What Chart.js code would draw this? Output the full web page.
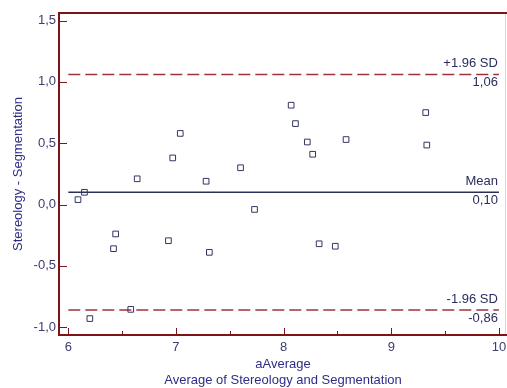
<!DOCTYPE html>
<html>
<head>
<meta charset="utf-8">
<script src="https://cdn.jsdelivr.net/npm/chart.js@4/dist/chart.umd.min.js"></script>
<style>
html,body{margin:0;padding:0;background:#fff;}
#wrap{width:507px;height:388px;}
</style>
</head>
<body>
<div id="wrap"><canvas id="c" width="507" height="388"></canvas></div>
<script>
// ---- data ----
const averages = [6.09, 6.15, 6.20, 6.42, 6.44, 6.58, 6.64, 6.93, 6.97, 7.04, 7.28, 7.31,
                  7.60, 7.73, 8.07, 8.11, 8.22, 8.27, 8.33, 8.48, 8.58, 9.32, 9.33];
const differences = [0.04, 0.10, -0.93, -0.36, -0.24, -0.855, 0.21, -0.295, 0.38, 0.58, 0.19, -0.39,
                     0.30, -0.04, 0.81, 0.66, 0.51, 0.41, -0.32, -0.34, 0.53, 0.75, 0.485];
const meanDiff = 0.10;
const upperLoA = 1.06;
const lowerLoA = -0.86;
const lineSpan = [6, 10];
const refLabels = [
  {value: upperLoA, name: '+1.96 SD', text: '1,06'},
  {value: meanDiff, name: 'Mean', text: '0,10'},
  {value: lowerLoA, name: '-1.96 SD', text: '-0,86'}
];
const xMajorTicks = [6, 7, 8, 9, 10];
const xMinorTicks = [6.5, 7.5, 8.5, 9.5];
const yMajorTicks = [-1.0, -0.5, 0.0, 0.5, 1.0, 1.5];
const xTitle = ['aAverage', 'Average of Stereology and Segmentation'];
const yTitle = 'Stereology - Segmentation';

// ---- styling ----
const FRAME = '#7d1518';
const FONT = 'Arial, "Liberation Sans", sans-serif';

const points = averages.map((x, i) => ({x: x, y: differences[i]}));
const lineData = v => lineSpan.map(x => ({x: x, y: v}));

const fmt = v => v.toFixed(1).replace('.', ',');

const framePlugin = {
  id: 'framePlugin',
  afterDraw(chart) {
    const {ctx, chartArea: a, scales: {x, y}} = chart;
    ctx.save();
    // top border
    ctx.strokeStyle = FRAME;
    ctx.lineWidth = 2;
    ctx.beginPath();
    ctx.moveTo(a.left - 1, a.top);
    ctx.lineTo(a.right, a.top);
    ctx.stroke();
    // right border (light)
    ctx.strokeStyle = '#f0cdd6';
    ctx.lineWidth = 1;
    ctx.beginPath();
    ctx.moveTo(a.right - 1.5, a.top + 1);
    ctx.lineTo(a.right - 1.5, a.bottom - 1);
    ctx.stroke();
    // inward ticks
    ctx.strokeStyle = FRAME;
    ctx.lineWidth = 1;
    ctx.beginPath();
    xMajorTicks.forEach(v => {
      const px = Math.round(x.getPixelForValue(v)) + 0.5;
      ctx.moveTo(px, a.bottom); ctx.lineTo(px, a.bottom - 7);
    });
    xMinorTicks.forEach(v => {
      const px = Math.round(x.getPixelForValue(v)) + 0.5;
      ctx.moveTo(px, a.bottom); ctx.lineTo(px, a.bottom - 4);
    });
    yMajorTicks.forEach(v => {
      const py = Math.round(y.getPixelForValue(v)) + 0.5;
      ctx.moveTo(a.left, py); ctx.lineTo(a.left + 8, py);
    });
    ctx.stroke();
    // reference line labels
    ctx.fillStyle = '#2a2d5e';
    ctx.font = '13px ' + FONT;
    ctx.textAlign = 'right';
    ctx.textBaseline = 'middle';
    const rx = x.getPixelForValue(lineSpan[1]) - 1;
    refLabels.forEach(r => {
      const py = y.getPixelForValue(r.value);
      ctx.fillText(r.name, rx, py - 11);
      ctx.fillText(r.text, rx, py + 8);
    });
    ctx.restore();
  }
};

new Chart(document.getElementById('c'), {
  type: 'scatter',
  data: {
    datasets: [
      {
        label: 'Differences',
        data: points,
        pointStyle: 'rect',
        pointRadius: 4,
        pointBackgroundColor: 'rgba(255,255,255,0)',
        pointBorderColor: '#34365e',
        pointBorderWidth: 1,
        showLine: false,
        order: 0
      },
      {
        type: 'line',
        label: 'Mean',
        data: lineData(meanDiff),
        borderColor: '#2a2f5a',
        borderWidth: 1.6,
        pointRadius: 0,
        order: 1
      },
      {
        type: 'line',
        label: '+1.96 SD',
        data: lineData(upperLoA),
        borderColor: '#a0323d',
        borderWidth: 1.4,
        borderDash: [12, 5],
        pointRadius: 0,
        order: 1
      },
      {
        type: 'line',
        label: '-1.96 SD',
        data: lineData(lowerLoA),
        borderColor: '#a0323d',
        borderWidth: 1.4,
        borderDash: [12, 5],
        pointRadius: 0,
        order: 1
      }
    ]
  },
  options: {
    responsive: false,
    animation: false,
    layout: {autoPadding: false, padding: {top: 13, right: 0, left: 0, bottom: 0}},
    plugins: {legend: {display: false}, tooltip: {enabled: false}},
    scales: {
      x: {
        type: 'linear',
        min: 5.9136,
        max: 10.075,
        afterBuildTicks: s => { s.ticks = xMajorTicks.map(v => ({value: v})); },
        afterFit: s => { s.height = 53; s.paddingLeft = 0; s.paddingRight = 0; },
        grid: {display: false, drawTicks: false},
        border: {display: true, color: FRAME, width: 2},
        ticks: {
          padding: 5,
          color: '#3a3d6e',
          font: {family: FONT, size: 13},
          callback: v => String(v),
          maxRotation: 0,
          autoSkip: false
        },
        title: {
          display: true,
          text: xTitle,
          color: '#2e2e86',
          font: {family: FONT, size: 13, lineHeight: '16px'},
          padding: {top: 0, bottom: 0}
        }
      },
      y: {
        type: 'linear',
        min: -1.064,
        max: 1.562,
        afterBuildTicks: s => { s.ticks = yMajorTicks.map(v => ({value: v})); },
        afterFit: s => { s.width = 59; s.paddingTop = 0; s.paddingBottom = 0; },
        grid: {display: false, drawTicks: false},
        border: {display: true, color: FRAME, width: 2},
        ticks: {
          padding: 3,
          color: '#3a3d6e',
          font: {family: FONT, size: 13},
          callback: v => fmt(v),
          autoSkip: false
        },
        title: {
          display: true,
          text: yTitle,
          color: '#2e2e86',
          font: {family: FONT, size: 13, lineHeight: '16px'},
          padding: {top: 10, bottom: 0}
        }
      }
    }
  },
  plugins: [framePlugin]
});
</script>
</body>
</html>
